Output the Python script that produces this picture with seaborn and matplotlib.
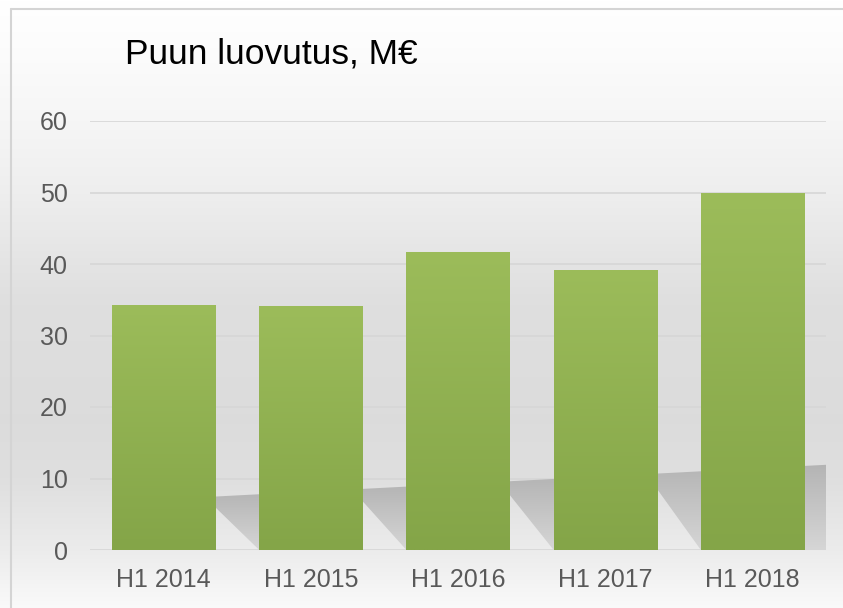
import numpy as np
import seaborn as sns
import matplotlib.pyplot as plt
from matplotlib.colors import to_rgb
from matplotlib.patches import Polygon
from matplotlib.lines import Line2D

# chart data
periods = ['H1 2014', 'H1 2015', 'H1 2016', 'H1 2017', 'H1 2018']
values = [34.3, 34.1, 41.7, 39.2, 49.9]
y_ticks = [0, 10, 20, 30, 40, 50, 60]
title = 'Puun luovutus, M€'


def gradient_fill(ax, patch, top, bottom, zorder):
    # paint a vertical colour gradient clipped to a patch
    pts = patch.get_patch_transform().transform(patch.get_path().vertices)
    x0, x1 = pts[:, 0].min(), pts[:, 0].max()
    y0, y1 = pts[:, 1].min(), pts[:, 1].max()
    t = np.linspace(0, 1, 256)[:, None, None]
    img = (1 - t) * np.array(to_rgb(top)) + t * np.array(to_rgb(bottom))
    im = ax.imshow(img, extent=(x0, x1, y0, y1), origin='upper',
                   aspect='auto', zorder=zorder, interpolation='bilinear')
    im.set_clip_path(patch)


def draw_background(fig):
    bg = fig.add_axes([0, 0, 1, 1], zorder=-5)
    stops_y = [0, 60, 120, 190, 300, 420, 480, 550, 608]
    stops_g = [1.0, 0.985, 0.965, 0.935, 0.875, 0.862, 0.875, 0.925, 0.98]
    rows = np.interp(np.arange(608), stops_y, stops_g)
    img = np.repeat(rows[:, None, None], 3, axis=2)
    bg.imshow(img, aspect='auto', extent=(0, 1, 0, 1), origin='upper')
    bg.set_axis_off()
    # thin frame on the top and left edge
    fig.add_artist(Line2D([11 / 843, 1], [1 - 9 / 608] * 2,
                          transform=fig.transFigure, color='#d4d4d4', lw=1.5))
    fig.add_artist(Line2D([11 / 843] * 2, [0, 1 - 9 / 608],
                          transform=fig.transFigure, color='#d4d4d4', lw=1.5))


def shadow_top(x):
    # floor shadow rises slightly towards the right
    return 7.4 + (x - 0.28) * 1.07


def draw_shadows(ax, bars, x_right):
    dx = 0.37
    for i, bar in enumerate(bars):
        if i == 0:
            continue
        xl = bar.get_x()
        xr = xl + bar.get_width()
        if i == len(bars) - 1:
            xr_top = x_right
            xr_bot = x_right
        else:
            xr_top = xr - dx
            xr_bot = xr
        pts = [(xl, 0), (xl - dx, shadow_top(xl - dx)),
               (xr_top, shadow_top(xr_top)), (xr_bot, 0)]
        poly = Polygon(pts, closed=True, facecolor='none', edgecolor='none')
        ax.add_patch(poly)
        gradient_fill(ax, poly, '#b4b4b4', '#d6d6d6', zorder=1.5)


def main():
    sns.set_style('white')
    plt.rcParams['font.family'] = ['Liberation Sans', 'DejaVu Sans']

    fig = plt.figure(figsize=(8.43, 6.08), dpi=100)
    fig.patch.set_facecolor('white')
    draw_background(fig)

    ax = fig.add_axes([90 / 843, 1 - 550 / 608, 736 / 843, 429 / 608])
    ax.set_facecolor('none')

    sns.barplot(x=periods, y=values, color='#9bbb59', saturation=1,
                width=0.7, ax=ax, zorder=2)

    bars = list(ax.patches)
    for bar in bars:
        bar.set_edgecolor('none')
        gradient_fill(ax, bar, '#9cbc5a', '#84a548', zorder=2.5)

    draw_shadows(ax, bars, 4.5)

    ax.set_xlim(-0.5, 4.5)
    ax.set_ylim(0, 60)
    ax.set_yticks(y_ticks)
    ax.yaxis.grid(True, color='#d6d6d6', lw=1.2, zorder=0)
    ax.set_axisbelow(True)
    sns.despine(ax=ax, left=True, bottom=True)
    ax.tick_params(axis='both', length=0, labelsize=18, labelcolor='#595959')
    ax.tick_params(axis='y', pad=16)
    ax.tick_params(axis='x', pad=13)
    ax.set_xlabel('')
    ax.set_ylabel('')

    fig.text(125 / 843, 1 - 63 / 608, title, fontsize=25.5, color='black',
             ha='left', va='baseline')

    fig.savefig('out.png', dpi=100)


if __name__ == '__main__':
    main()
